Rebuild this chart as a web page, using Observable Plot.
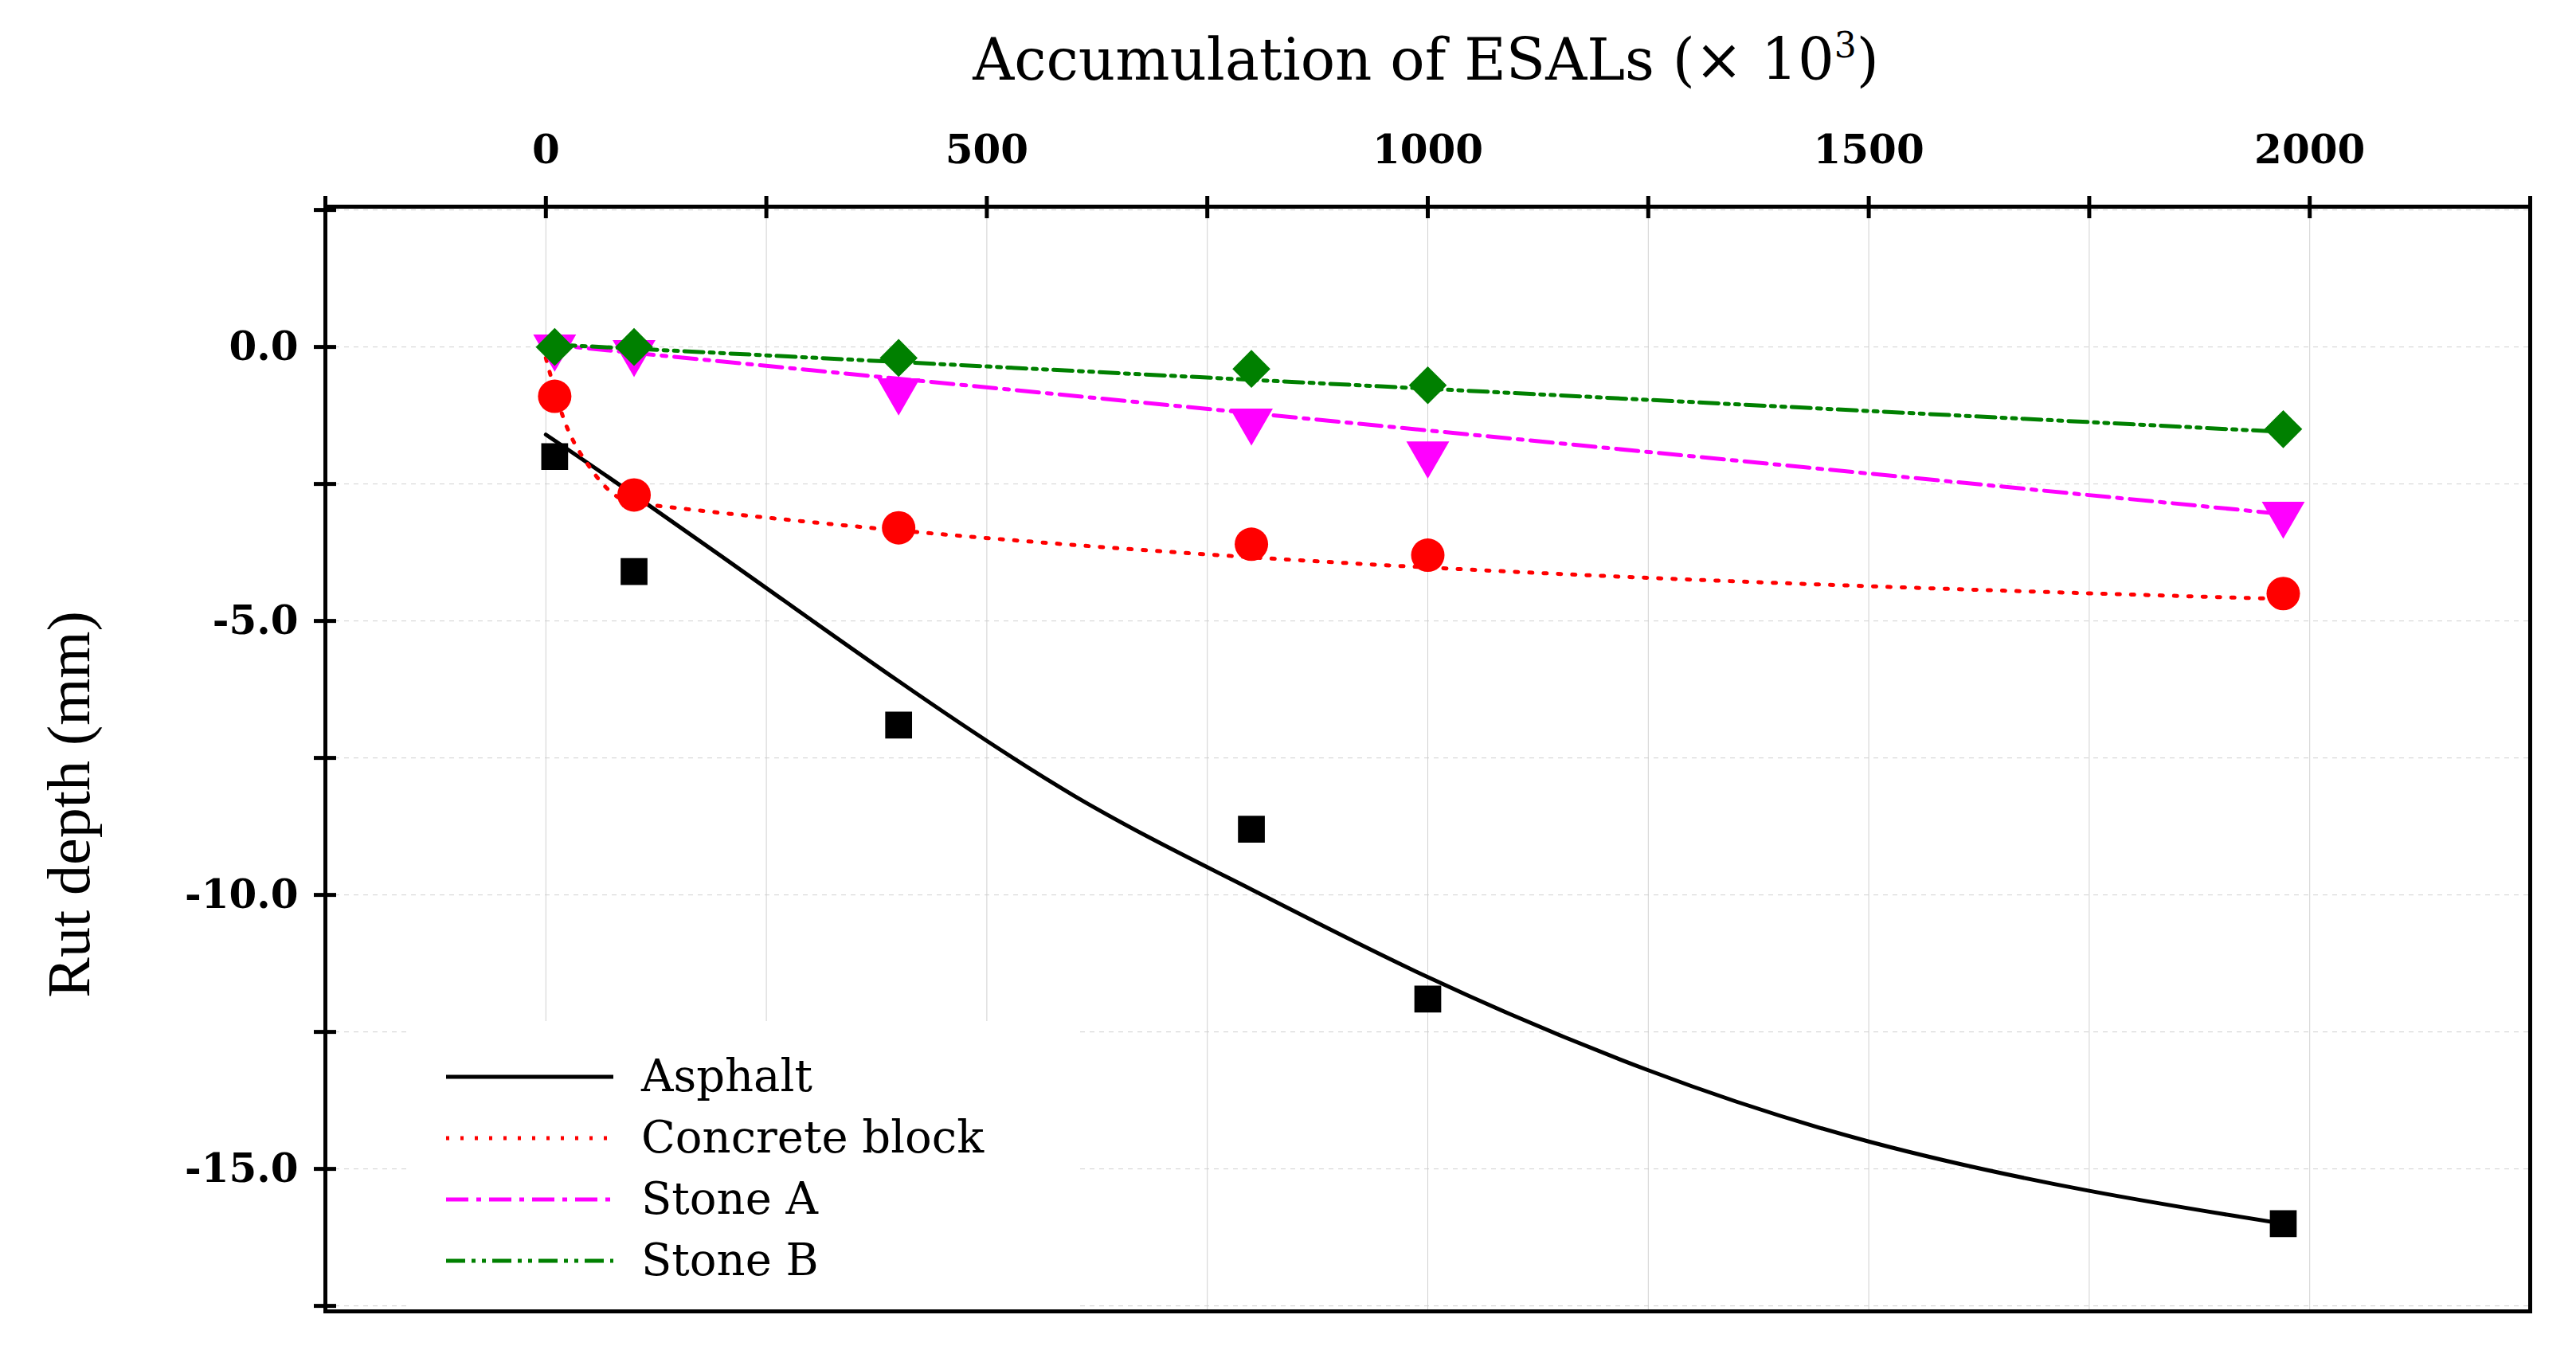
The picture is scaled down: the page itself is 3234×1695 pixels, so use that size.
<!DOCTYPE html>
<html><head><meta charset="utf-8">
<script src="https://cdn.jsdelivr.net/npm/d3@7"></script>
<script src="https://cdn.jsdelivr.net/npm/@observablehq/plot@0.6"></script>
<style>
body{margin:0;background:#fff;font-family:"DejaVu Serif","Liberation Serif",serif;}
#wrap{position:relative;width:3234px;height:1695px;}
#legend{position:absolute;left:510px;top:1282px;width:840px;height:362px;background:#fff;font-size:54px;}
</style></head><body>
<div id="wrap"><div id="chart"></div><div id="legend"></div></div>
<script>
const esals = [10, 100, 400, 800, 1000, 1970];
const asphalt = [-2.0, -4.1, -6.9, -8.8, -11.9, -16.0];
const concrete = [-0.9, -2.7, -3.3, -3.6, -3.8, -4.5];
const stoneA = [0.0, -0.1, -0.8, -1.35, -1.95, -3.05];
const stoneB = [0.0, 0.0, -0.2, -0.4, -0.7, -1.5];
// fitted trend lines
const asphaltFitX = [0, 100, 250, 400, 600, 800, 1000, 1250, 1500, 1750, 1970];
const asphaltFitY = [-1.6, -2.7, -4.4, -6.1, -8.2, -9.9, -11.5, -13.2, -14.5, -15.4, -16.0];
const concreteFitX = [0, 20, 50, 100, 1970];
const concreteFitY = [-0.2, -1.3, -2.2, -2.85, -4.6];
const stoneAFitX = [0, 1970];
const stoneAFitY = [0.05, -3.05];
const stoneBFitX = [0, 1970];
const stoneBFitY = [0.05, -1.55];
const xTicks = [0, 500, 1000, 1500, 2000];
const yTicks = [0, -5, -10, -15];

const zip = (xs, ys) => xs.map((x, i) => ({x, y: ys[i]}));
const series = [
  {name: "Asphalt", color: "black", dash: null, fit: zip(asphaltFitX, asphaltFitY), pts: zip(esals, asphalt), symbol: "square", rotate: 0, r: 19, curve: "natural"},
  {name: "Concrete block", color: "red", dash: "4,14", fit: zip(concreteFitX, concreteFitY), pts: zip(esals, concrete), symbol: "circle", rotate: 0, r: 21, curve: "monotone-x"},
  {name: "Stone A", color: "magenta", dash: "28,10,6,10", fit: zip(stoneAFitX, stoneAFitY), pts: zip(esals, stoneA), symbol: "triangle", rotate: 180, r: 20, curve: "linear"},
  {name: "Stone B", color: "green", dash: "24,8,5,8,5,8", fit: zip(stoneBFitX, stoneBFitY), pts: zip(esals, stoneB), symbol: "square", rotate: 45, r: 19, curve: "linear"}
];
const marks = [
  Plot.gridX(d3.range(-250, 2251, 250), {stroke: "#ccc", strokeOpacity: 0.9}),
  Plot.gridY(d3.range(-17.5, 2.6, 2.5), {stroke: "#ccc", strokeDasharray: "6,6", strokeOpacity: 0.9}),
  Plot.frame({stroke: "black", strokeWidth: 5}),
  Plot.axisX(d3.range(-250, 2251, 250), {anchor: "top", tickSize: 14, tickFormat: () => "", label: null, strokeWidth: 5}),
  Plot.axisX(d3.range(-250, 2251, 250), {anchor: "top", tickSize: -14, tickFormat: () => "", label: null, strokeWidth: 5}),
  Plot.axisX(xTicks, {anchor: "top", tickSize: 0, tickPadding: 55, tickFormat: d => String(d), fontSize: 50, fontWeight: "bold", label: null}),
  Plot.axisY(d3.range(-17.5, 2.6, 2.5), {anchor: "left", tickSize: 14, tickFormat: () => "", label: null, strokeWidth: 5}),
  Plot.axisY(d3.range(-17.5, 2.6, 2.5), {anchor: "left", tickSize: -14, tickFormat: () => "", label: null, strokeWidth: 5}),
  Plot.axisY(yTicks, {anchor: "left", tickSize: 0, tickPadding: 34, tickFormat: d => d.toFixed(1), fontSize: 50, fontWeight: "bold", label: null})
];
for (const s of series) {
  marks.push(Plot.line(s.fit, {x: "x", y: "y", stroke: s.color, strokeWidth: 5, strokeDasharray: s.dash, curve: s.curve}));
}
for (const s of series) {
  marks.push(Plot.dot(s.pts, {x: "x", y: "y", fill: s.color, stroke: "none", symbol: s.symbol, r: s.r, rotate: s.rotate}));
}
const chart = Plot.plot({
  width: 3234, height: 1695,
  marginLeft: 408, marginRight: 58, marginTop: 259, marginBottom: 49,
  x: {domain: [-250, 2250]},
  y: {domain: [-17.6, 2.56]},
  style: {fontFamily: "DejaVu Serif, serif", background: "white"},
  marks
});
const svg = d3.select(chart);
svg.append("text").attr("x", 1790).attr("y", 100).attr("text-anchor", "middle")
  .attr("font-size", 72).attr("font-family", "DejaVu Serif, serif")
  .html('Accumulation of ESALs (× 10<tspan dy="-28" font-size="44">3</tspan><tspan dy="28">)</tspan>');
svg.append("text").attr("transform", "translate(112,1010) rotate(-90)").attr("text-anchor", "middle")
  .attr("font-size", 76).attr("font-family", "Liberation Serif, serif").text("Rut depth (mm)");
document.getElementById("chart").appendChild(chart);
const lg = d3.select("#legend").append("svg").attr("width", 840).attr("height", 362);
series.forEach((s, i) => {
  const y = 70 + i * 77;
  lg.append("line").attr("x1", 50).attr("x2", 260).attr("y1", y).attr("y2", y)
    .attr("stroke", s.color).attr("stroke-width", 5).attr("stroke-dasharray", s.dash);
  lg.append("text").attr("x", 295).attr("y", y + 18).attr("font-size", 56)
    .attr("font-family", "DejaVu Serif, serif").text(s.name);
});
</script></body></html>
